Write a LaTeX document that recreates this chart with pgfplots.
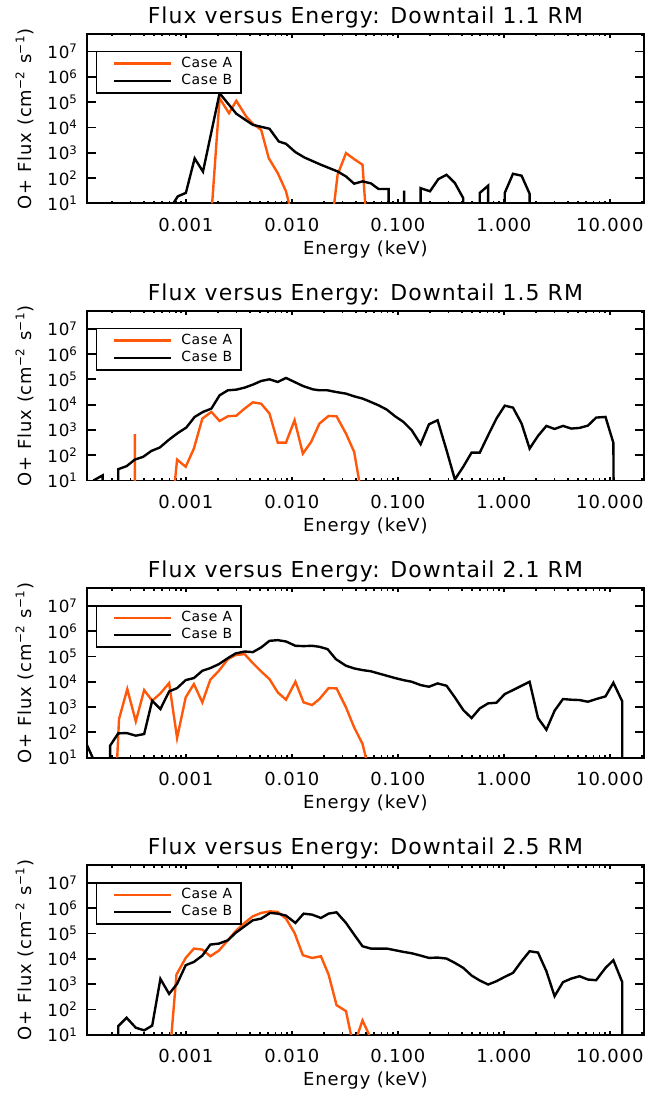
\documentclass[border=0pt]{standalone}
\usepackage{fontspec}
\setmainfont{DejaVu Sans}[LetterSpace=5]
\usepackage{pgfplots}
\pgfplotsset{compat=1.18}
\usepgfplotslibrary{groupplots}
\definecolor{idlorange}{RGB}{255,88,10}
\pgfplotsset{
  legend image code/.code={\path (0pt,0pt) (36.8pt,0pt); \draw[#1, line width=1.2pt] (5.4pt,0pt) -- (33.7pt,0pt);},
}

\begin{document}
\begin{tikzpicture}
\begin{groupplot}[
    group style={group size=1 by 4, vertical sep=54pt},
    xmode=log, ymode=log,
    scale only axis, width=279.5pt, height=85pt,
    xmin=1.16e-4, xmax=21, ymin=10, ymax=5e7,
    xtick={1e-3,1e-2,1e-1,1,10},
    xticklabels={0.001,0.010,0.100,1.000,10.000},
    minor xtick={2e-4,3e-4,4e-4,5e-4,6e-4,7e-4,8e-4,9e-4,
                 2e-3,3e-3,4e-3,5e-3,6e-3,7e-3,8e-3,9e-3,
                 2e-2,3e-2,4e-2,5e-2,6e-2,7e-2,8e-2,9e-2,
                 0.2,0.3,0.4,0.5,0.6,0.7,0.8,0.9,
                 2,3,4,5,6,7,8,9,20},
    ytick={10,100,1000,10000,100000,1000000,10000000},
    yticklabels={10\textsuperscript{1},10\textsuperscript{2},10\textsuperscript{3},
                 10\textsuperscript{4},10\textsuperscript{5},10\textsuperscript{6},
                 10\textsuperscript{7}},
    yminorticks=false,
    tick align=inside,
    axis line style={line width=0.9pt},
    tick style={black, line width=0.9pt},
    major tick length=4.5pt, minor tick length=1.2pt,
    xtick style={/pgfplots/major tick length=2pt, /pgfplots/minor tick length=1.2pt},
    xticklabel style={font=\fontsize{9}{11}\selectfont, anchor=base, yshift=-14pt},
    yticklabel style={font=\fontsize{8.4}{10}\selectfont, anchor=east, inner sep=0pt, xshift=-4.2pt},
    every axis title shift=0pt,
    title style={font=\fontsize{11}{13}\selectfont, at={(0.5,1)}, anchor=base, yshift=5.3pt},
    xlabel={Energy (keV)},
    xlabel style={font=\fontsize{9}{11}\selectfont, at={(0.5,0)}, anchor=base, yshift=-25.5pt},
    ylabel={O+ Flux (cm\textsuperscript{−2} s\textsuperscript{−1})},
    ylabel style={font=\fontsize{9}{11}\selectfont, at={(-0.111,0.5)}, anchor=center},
    legend style={at={(0.016,0.902)}, anchor=north west,
                  draw=black, line width=0.9pt, font=\fontsize{7}{8.5}\selectfont,
                  inner xsep=3pt, inner ysep=1.2pt, nodes={inner sep=1.5pt}, row sep=-1pt},
    legend cell align=left,
]

% Downtail 1.1 RM
\nextgroupplot[title={Flux versus Energy: Downtail 1.1 RM}]
\addplot[idlorange, line width=1.2pt] coordinates {
 (1.77e-3,10) (2.08e-3,1.44e5) (2.55e-3,3.68e4) (2.99e-3,1.13e5) (3.71e-3,2.7e4)
 (4.28e-3,1.4e4) (5.13e-3,8.1e3) (6.05e-3,615) (7.36e-3,157) (8.8e-3,30) (9.4e-3,10)
 (9.4e-3,0.1) (2.51e-2,0.1) (2.51e-2,10) (2.70e-2,135) (3.24e-2,970) (3.87e-2,562)
 (4.64e-2,336) (4.92e-2,10) (4.92e-2,0.1)
};
\addlegendentry{Case A}
\addplot[black, line width=1.2pt] coordinates {
 (7.6e-4,10) (8.4e-4,19) (1.0e-3,26) (1.21e-3,600) (1.45e-3,180) (2.08e-3,2.26e5)
 (2.99e-3,3.5e4) (3.58e-3,2.1e4) (4.28e-3,1.27e4) (6.15e-3,8.9e3) (7.52e-3,2.8e3)
 (8.8e-3,2.26e3) (1.08e-2,1.06e3) (1.31e-2,655) (1.88e-2,336) (2.70e-2,183)
 (3.24e-2,116) (3.87e-2,60) (4.64e-2,74) (5.56e-2,62) (6.57e-2,37) (8.17e-2,37)
 (8.17e-2,0.1) (0.1144,0.1) (0.1144,32) (0.1145,0.1) (0.164,0.1) (0.164,40)
 (0.201,30) (0.241,91) (0.288,135) (0.345,64) (0.414,16) (0.414,0.1) (0.593,0.1)
 (0.593,26) (0.711,50) (0.711,0.1) (1.02,0.1) (1.02,26) (1.22,148) (1.47,124)
 (1.75,24) (1.75,0.1)
};
\addlegendentry{Case B}

% Downtail 1.5 RM
\nextgroupplot[title={Flux versus Energy: Downtail 1.5 RM}]
\addplot[idlorange, line width=1.2pt] coordinates {
 (3.28e-4,0.1) (3.30e-4,680) (3.33e-4,0.1) (7.9e-4,0.1) (7.9e-4,10) (8.26e-4,67)
 (9.96e-4,35) (1.19e-3,183) (1.43e-3,2.8e3) (1.74e-3,5.14e3) (2.08e-3,2.26e3)
 (2.49e-3,3.46e3) (2.99e-3,3.65e3) (3.58e-3,6.95e3) (4.28e-3,1.23e4) (5.13e-3,1.09e4)
 (6.15e-3,4.42e3) (7.36e-3,316) (8.8e-3,316) (1.06e-2,2.41e3) (1.27e-2,116)
 (1.52e-2,336) (1.82e-2,1.78e3) (2.22e-2,3.57e3) (2.64e-2,3.46e3) (3.24e-2,716)
 (3.87e-2,135) (4.31e-2,10) (4.31e-2,0.1)
};
\addlegendentry{Case A}
\addplot[black, line width=1.2pt] coordinates {
 (1.34e-4,10) (1.64e-4,16) (1.64e-4,0.1) (2.30e-4,0.1) (2.30e-4,28) (2.76e-4,37)
 (3.30e-4,67) (3.95e-4,86) (4.73e-4,148) (5.67e-4,201) (6.95e-4,415) (8.43e-4,762)
 (1.01e-3,1240) (1.21e-3,3260) (1.45e-3,5140) (1.74e-3,6950) (2.08e-3,2.33e4)
 (2.49e-3,3.68e4) (2.99e-3,3.91e4) (3.58e-3,4.69e4) (4.28e-3,6.15e4) (5.13e-3,8.6e4)
 (6.15e-3,1.0e5) (7.36e-3,7.85e4) (8.8e-3,1.13e5) (1.06e-2,7.85e4) (1.27e-2,5.46e4)
 (1.57e-2,4.03e4) (1.82e-2,3.68e4) (2.17e-2,3.68e4) (2.60e-2,3.16e4) (3.24e-2,2.72e4)
 (3.87e-2,2.13e4) (4.64e-2,1.73e4) (5.10e-2,1.48e4) (6.57e-2,9.4e3) (7.86e-2,6.35e3)
 (9.42e-2,3.46e3) (0.1129,2.07e3) (0.1351,970) (0.164,272) (0.1966,1.67e3)
 (0.237,2.41e3) (0.288,157) (0.345,11) (0.414,35) (0.496,127) (0.593,127)
 (0.711,615) (0.851,2.8e3) (1.02,9.1e3) (1.22,7.6e3) (1.47,1.78e3) (1.75,183)
 (2.10,579) (2.52,1.44e3) (3.01,1.09e3) (3.61,1.44e3) (4.33,1.13e3) (5.18,1.2e3)
 (6.21,1.48e3) (7.43,3.07e3) (9.10,3.26e3) (10.8,307) (10.9,0.1)
};
\addlegendentry{Case B}

% Downtail 2.1 RM
\nextgroupplot[title={Flux versus Energy: Downtail 2.1 RM}]
\addplot[idlorange, line width=1.2pt] coordinates {
 (2.25e-4,10) (2.34e-4,336) (2.80e-4,5.14e3) (3.37e-4,272) (4.04e-4,4.69e3)
 (4.81e-4,1.78e3) (5.75e-4,3.46e3) (6.95e-4,8.85e3) (8.26e-4,60) (9.96e-4,2.41e3)
 (1.19e-3,8.1e3) (1.43e-3,1.53e3) (1.70e-3,1.2e4) (2.05e-3,2.72e4) (2.49e-3,7.85e4)
 (2.94e-3,1.13e5) (3.58e-3,1.24e5) (4.28e-3,5.46e4) (5.13e-3,2.56e4) (6.15e-3,1.27e4)
 (7.36e-3,3.79e3) (8.8e-3,1.95e3) (1.08e-2,1.0e4) (1.29e-2,1.53e3) (1.55e-2,1.2e3)
 (1.82e-2,2.07e3) (2.22e-2,5.62e3) (2.64e-2,5.46e3) (3.24e-2,970) (3.87e-2,157)
 (4.64e-2,35) (4.99e-2,10) (4.99e-2,0.1)
};
\addlegendentry{Case A}
\addplot[black, line width=1.2pt] coordinates {
 (1.16e-4,33) (1.32e-4,10) (1.32e-4,0.1) (1.92e-4,0.1) (1.93e-4,30) (2.30e-4,91)
 (2.76e-4,94) (3.37e-4,74) (4.04e-4,86) (4.81e-4,1.78e3) (5.75e-4,834)
 (6.95e-4,4.15e3) (8.26e-4,5.6e3) (9.96e-4,1.16e4) (1.19e-3,1.40e4) (1.43e-3,2.72e4)
 (1.70e-3,3.46e4) (2.05e-3,4.98e4) (2.49e-3,8.6e4) (2.94e-3,1.31e5) (3.58e-3,1.57e5)
 (4.28e-3,1.48e5) (5.13e-3,2.27e5) (6.15e-3,4.15e5) (7.36e-3,4.41e5) (8.8e-3,3.91e5)
 (1.08e-2,2.64e5) (1.29e-2,2.56e5) (1.55e-2,2.64e5) (1.82e-2,2.41e5) (2.17e-2,1.95e5)
 (2.60e-2,7.85e4) (3.24e-2,4.29e4) (3.87e-2,3.36e4) (4.64e-2,2.89e4) (5.56e-2,2.6e4)
 (6.57e-2,2.13e4) (7.86e-2,1.73e4) (9.42e-2,1.40e4) (0.1129,1.16e4) (0.1351,1.0e4)
 (0.164,7.4e3) (0.1966,6.35e3) (0.237,8.6e3) (0.288,6.95e3) (0.345,2.41e3)
 (0.414,762) (0.496,368) (0.593,885) (0.711,1.40e3) (0.851,1.48e3) (1.02,3.26e3)
 (1.22,4.69e3) (1.47,6.95e3) (1.75,1.0e4) (2.10,368) (2.52,127) (3.01,716)
 (3.61,2.07e3) (4.33,1.95e3) (5.18,1.89e3) (6.21,1.62e3) (7.43,2.07e3) (9.10,2.64e3)
 (10.8,9.14e3) (13.1,1.67e3) (13.1,0.1)
};
\addlegendentry{Case B}

% Downtail 2.5 RM
\nextgroupplot[title={Flux versus Energy: Downtail 2.5 RM}]
\addplot[idlorange, line width=1.2pt] coordinates {
 (7.31e-4,10) (8.15e-4,2.41e3) (9.96e-4,1.09e4) (1.19e-3,2.56e4) (1.43e-3,2.33e4)
 (1.70e-3,1.27e4) (2.05e-3,2.13e4) (2.49e-3,5.46e4) (2.94e-3,1.24e5) (3.58e-3,2.64e5)
 (4.28e-3,4.83e5) (5.13e-3,6.55e5) (6.24e-3,7.62e5) (7.36e-3,7.16e5) (8.8e-3,3.91e5)
 (1.06e-2,1.06e5) (1.27e-2,1.40e4) (1.55e-2,1.09e4) (1.88e-2,1.27e4) (2.22e-2,2.41e3)
 (2.64e-2,148) (3.24e-2,86) (3.61e-2,10) (3.61e-2,0.1) (4.17e-2,0.1) (4.17e-2,10)
 (4.64e-2,37) (5.36e-2,10) (5.36e-2,0.1)
};
\addlegendentry{Case A}
\addplot[black, line width=1.2pt] coordinates {
 (2.30e-4,10) (2.30e-4,22) (2.76e-4,47) (3.37e-4,19) (4.04e-4,15) (4.81e-4,23)
 (5.75e-4,1.62e3) (6.95e-4,415) (8.26e-4,1.03e3) (9.96e-4,5.62e3) (1.19e-3,7.6e3)
 (1.43e-3,1.35e4) (1.70e-3,3.68e4) (2.05e-3,4.03e4) (2.49e-3,5.46e4) (2.94e-3,1.06e5)
 (3.58e-3,1.95e5) (4.28e-3,3.36e5) (5.13e-3,3.91e5) (6.24e-3,6.55e5) (7.36e-3,6.15e5)
 (8.8e-3,5.14e5) (1.08e-2,2.64e5) (1.29e-2,6.15e5) (1.55e-2,5.62e5) (1.88e-2,4.15e5)
 (2.22e-2,6.15e5) (2.64e-2,6.95e5) (3.24e-2,2.64e5) (3.87e-2,9.14e4) (4.64e-2,3.16e4)
 (5.56e-2,2.56e4) (7.86e-2,2.56e4) (9.42e-2,2.2e4) (0.1129,1.89e4) (0.1351,1.67e4)
 (0.164,1.35e4) (0.1966,1.09e4) (0.237,1.13e4) (0.288,1.03e4) (0.345,6.95e3)
 (0.414,4.42e3) (0.496,2.2e3) (0.593,1.40e3) (0.711,970) (0.851,1.31e3) (1.02,1.95e3)
 (1.22,2.8e3) (1.47,8.1e3) (1.75,2.01e4) (2.10,1.78e4) (2.52,3.26e3) (3.01,336)
 (3.61,1.2e3) (4.33,1.67e3) (5.18,2.07e3) (6.21,1.53e3) (7.43,1.44e3) (9.10,4.42e3)
 (10.8,8.85e3) (13.1,1.2e3) (13.1,0.1)
};
\addlegendentry{Case B}
\end{groupplot}

\path ([xshift=-43.5pt,yshift=-29pt]group c1r4.south west)
      rectangle ([xshift=7.5pt,yshift=17pt]group c1r1.north east);
\end{tikzpicture}
\end{document}
